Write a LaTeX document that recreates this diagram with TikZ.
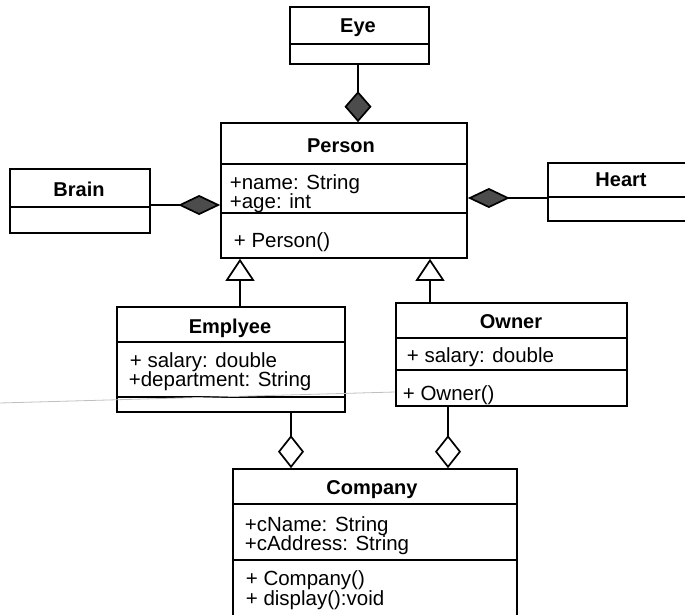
\documentclass[tikz,border=0pt]{standalone}
\usepackage{fontspec}
\setmainfont{Liberation Sans}
\usetikzlibrary{arrows.meta}

\begin{document}
\begin{tikzpicture}[x=1pt, y=-1pt, line width=1.7pt,
    classe/.style={draw, rectangle, inner sep=0pt},
    titulo/.style={anchor=base, inner sep=0pt, font=\fontsize{20}{20}\selectfont\bfseries},
    membro/.style={anchor=base west, inner sep=0pt, font=\fontsize{20.5}{20}\selectfont},
    compV/.style={-{Diamond[length=31pt, width=27pt, fill=black!70]}},
    compH/.style={-{Diamond[length=42pt, width=20pt, fill=black!70]}},
    agreg/.style={-{Diamond[open, length=33pt, width=26pt]}},
    heranca/.style={-{Triangle[open, length=22pt, width=29pt]}}]
    \useasboundingbox (0,0) rectangle (685,615);

    % Classes
    \node[classe, minimum width=139pt, minimum height=57pt] (Eye) at (359.5,35.5) {};
    \node[classe, minimum width=246pt, minimum height=135pt] (Person) at (344,190.5) {};
    \node[classe, minimum width=140pt, minimum height=64pt] (Brain) at (80,201) {};
    \node[classe, minimum width=152pt, minimum height=58pt] (Heart) at (624,192) {};
    \node[classe, minimum width=228pt, minimum height=105pt] (Emp) at (231,359.5) {};
    \node[classe, minimum width=231pt, minimum height=103pt] (Own) at (511.5,354.5) {};
    \node[classe, minimum width=284pt, minimum height=156pt] (Comp) at (375,547) {};

    % Divisorias
    \draw (Eye.west |- 0,44) -- (Eye.east |- 0,44);
    \draw (Person.west |- 0,164) -- (Person.east |- 0,164);
    \draw (Person.west |- 0,213) -- (Person.east |- 0,213);
    \draw (Brain.west |- 0,207) -- (Brain.east |- 0,207);
    \draw (Heart.west |- 0,197) -- (Heart.east |- 0,197);
    \draw (Emp.west |- 0,342) -- (Emp.east |- 0,342);
    \draw (Emp.west |- 0,397) -- (Emp.east |- 0,397);
    \draw (Own.west |- 0,338) -- (Own.east |- 0,338);
    \draw (Own.west |- 0,370) -- (Own.east |- 0,370);
    \draw (Comp.west |- 0,504) -- (Comp.east |- 0,504);
    \draw (Comp.west |- 0,560) -- (Comp.east |- 0,560);

    % Textos
    \node[titulo] (tEye) at (358,33) {Eye};
    \node[titulo] (tPerson) at (341,152) {Person};
    \node[membro] (pName) at (229,189) {+name: String};
    \node[membro] (pAge) at (229,208) {+age: int};
    \node[membro] (pOp) at (233,247) {+ Person()};
    \node[titulo] (tBrain) at (79,196) {Brain};
    \node[titulo] (tHeart) at (621,186) {Heart};
    \node[titulo] (tEmp) at (230,333) {Emplyee};
    \node[membro] (eSal) at (129,367) {+ salary: double};
    \node[membro] (eDep) at (128,386) {+department: String};
    \node[titulo] (tOwn) at (511,328) {Owner};
    \node[membro] (oSal) at (406,362) {+ salary: double};
    \node[membro] (oOp) at (402,400) {+ Owner()};
    \node[titulo] (tComp) at (372,494) {Company};
    \node[membro] (cName) at (244,531) {+cName: String};
    \node[membro] (cAddr) at (244,550) {+cAddress: String};
    \node[membro] (cOp) at (245,585) {+ Company()};
    \node[membro] (cDisp) at (245,605) {+ display():void};

    % Ligacoes
    \draw[compV] (Eye.south -| 358,0) -- (Person.north -| 358,0);
    \draw[compH] (Brain.east |- 0,205) -- (Person.west |- 0,205);
    \draw[compH] (Heart.west |- 0,198) -- (Person.east |- 0,198);
    \draw[heranca] (Emp.north -| 240,0) -- (Person.south -| 240,0);
    \draw[heranca] (Own.north -| 430,0) -- (Person.south -| 430,0);
    \draw[agreg] (Emp.south -| 291,0) -- (Comp.north -| 291,0);
    \draw[agreg] (Own.south -| 448,0) -- (Comp.north -| 448,0);

    % Risco da folha
    \draw[gray!50, line width=0.8pt] (0,403) -- (Own.west |- 0,392);
\end{tikzpicture}
\end{document}
